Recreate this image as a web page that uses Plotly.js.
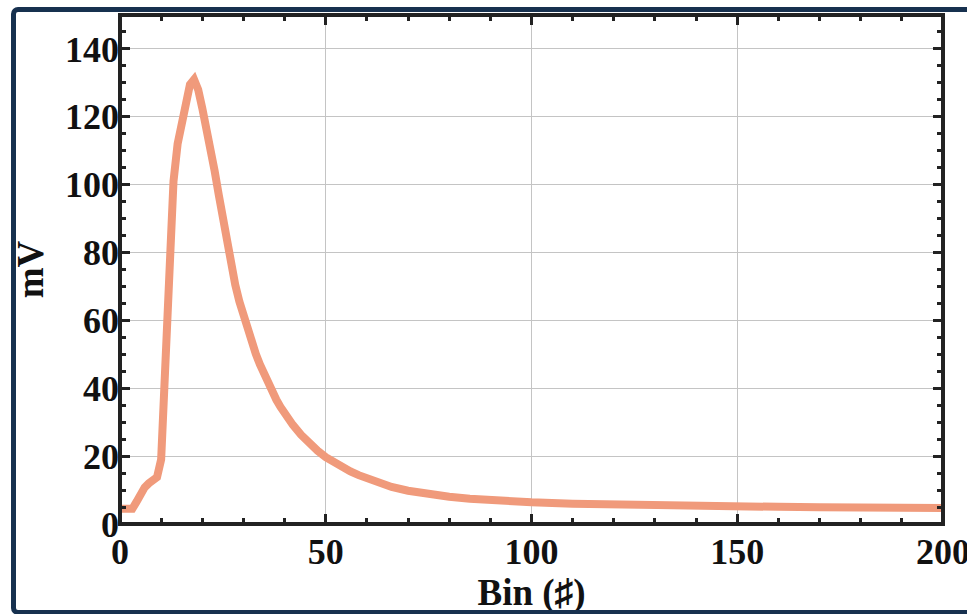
<!DOCTYPE html>
<html>
<head>
<meta charset="utf-8">
<script src="https://cdn.plot.ly/plotly-3.0.1.min.js"></script>
<style>
  html, body { margin: 0; padding: 0; background: #fff; overflow: hidden; }
  #chart { width: 967px; height: 614px; position: absolute; left: 0; top: 0; }
  #frame { position: absolute; left: 11px; top: 7px; width: 1100px; height: 608px;
           box-sizing: border-box; border: 5px solid #17314f; border-radius: 7px;
           pointer-events: none; }
</style>
</head>
<body>
<div id="chart"></div>
<div id="frame"></div>
<script>
const bins = [0, 3, 4, 5, 6, 7, 8, 9, 10, 11, 12, 13, 14, 15, 16, 17, 18, 19, 20,
  21, 22, 23, 24, 25, 26, 27, 28, 29, 30, 31, 32, 33, 34, 35, 36, 37, 38, 39, 40,
  42, 44, 46, 48, 50, 52, 54, 56, 58, 60, 63, 66, 70, 75, 80, 85, 90, 95, 100,
  110, 120, 130, 140, 150, 160, 170, 180, 190, 200];
const mV = [4.5, 4.5, 6.5, 9, 10.8, 12, 12.8, 13.8, 19, 47, 77, 101, 112, 118, 126, 129.5, 131, 128, 122.5,
  117, 111, 104, 97, 89.5, 82.5, 76, 70.5, 65.6, 61.2, 57.2, 53.5, 50.1, 47, 44.1, 41.4, 38.9, 36.6, 34.5, 32.6,
  29.2, 26.3, 23.8, 21.6, 19.7, 18.1, 16.7, 15.5, 14.4, 13.4, 12, 10.9, 9.8, 8.8, 8.05, 7.45, 7, 6.65, 6.4,
  6, 5.72, 5.5, 5.35, 5.2, 5.05, 4.95, 4.85, 4.8, 4.75];
const xTicks = [0, 50, 100, 150, 200];
const yTicks = [0, 20, 40, 60, 80, 100, 120, 140];

const fontFam = 'Liberation Serif';
const tickFont = { family: fontFam, size: 36, color: '#111', weight: 700 };
const titleFont = { family: fontFam, size: 37, color: '#111', weight: 700 };

const trace = {
  x: bins, y: mV, type: 'scatter', mode: 'lines',
  line: { color: '#f09a7b', width: 8 },
  hoverinfo: 'none'
};

const axisCommon = {
  showline: false,
  mirror: 'allticks',
  ticks: 'inside',
  ticklen: 10,
  tickwidth: 3,
  tickcolor: '#222',
  showgrid: true,
  gridcolor: '#c4c4c4',
  gridwidth: 1,
  zeroline: false,
  tickfont: tickFont
};

const layout = {
  width: 967, height: 614,
  margin: { l: 120, r: 24, t: 15, b: 90 },
  paper_bgcolor: '#fff', plot_bgcolor: '#fff',
  showlegend: false,
  xaxis: Object.assign({}, axisCommon, {
    range: [0, 200], tickvals: xTicks, ticktext: xTicks.map(String),
    ticklabelstandoff: 3, ticklabeloverflow: 'allow',
    minor: { dtick: 10, ticks: 'inside', ticklen: 6, tickwidth: 3, tickcolor: '#222', showgrid: false },
    title: { text: 'Bin (\u266F)', font: titleFont, standoff: 9 }
  }),
  yaxis: Object.assign({}, axisCommon, {
    range: [0, 150], tickvals: yTicks, ticktext: yTicks.map(String),
    minor: { dtick: 5, ticks: 'inside', ticklen: 6, tickwidth: 3, tickcolor: '#222', showgrid: false },
    title: { text: 'mV', font: titleFont, standoff: 10 }
  }),
  shapes: [{
    type: 'rect', xref: 'paper', yref: 'paper', x0: 0, x1: 1, y0: 0, y1: 1,
    line: { color: '#222', width: 4 }, layer: 'above'
  }]
};

Plotly.newPlot('chart', [trace], layout, { staticPlot: true, displayModeBar: false });
</script>
</body>
</html>
